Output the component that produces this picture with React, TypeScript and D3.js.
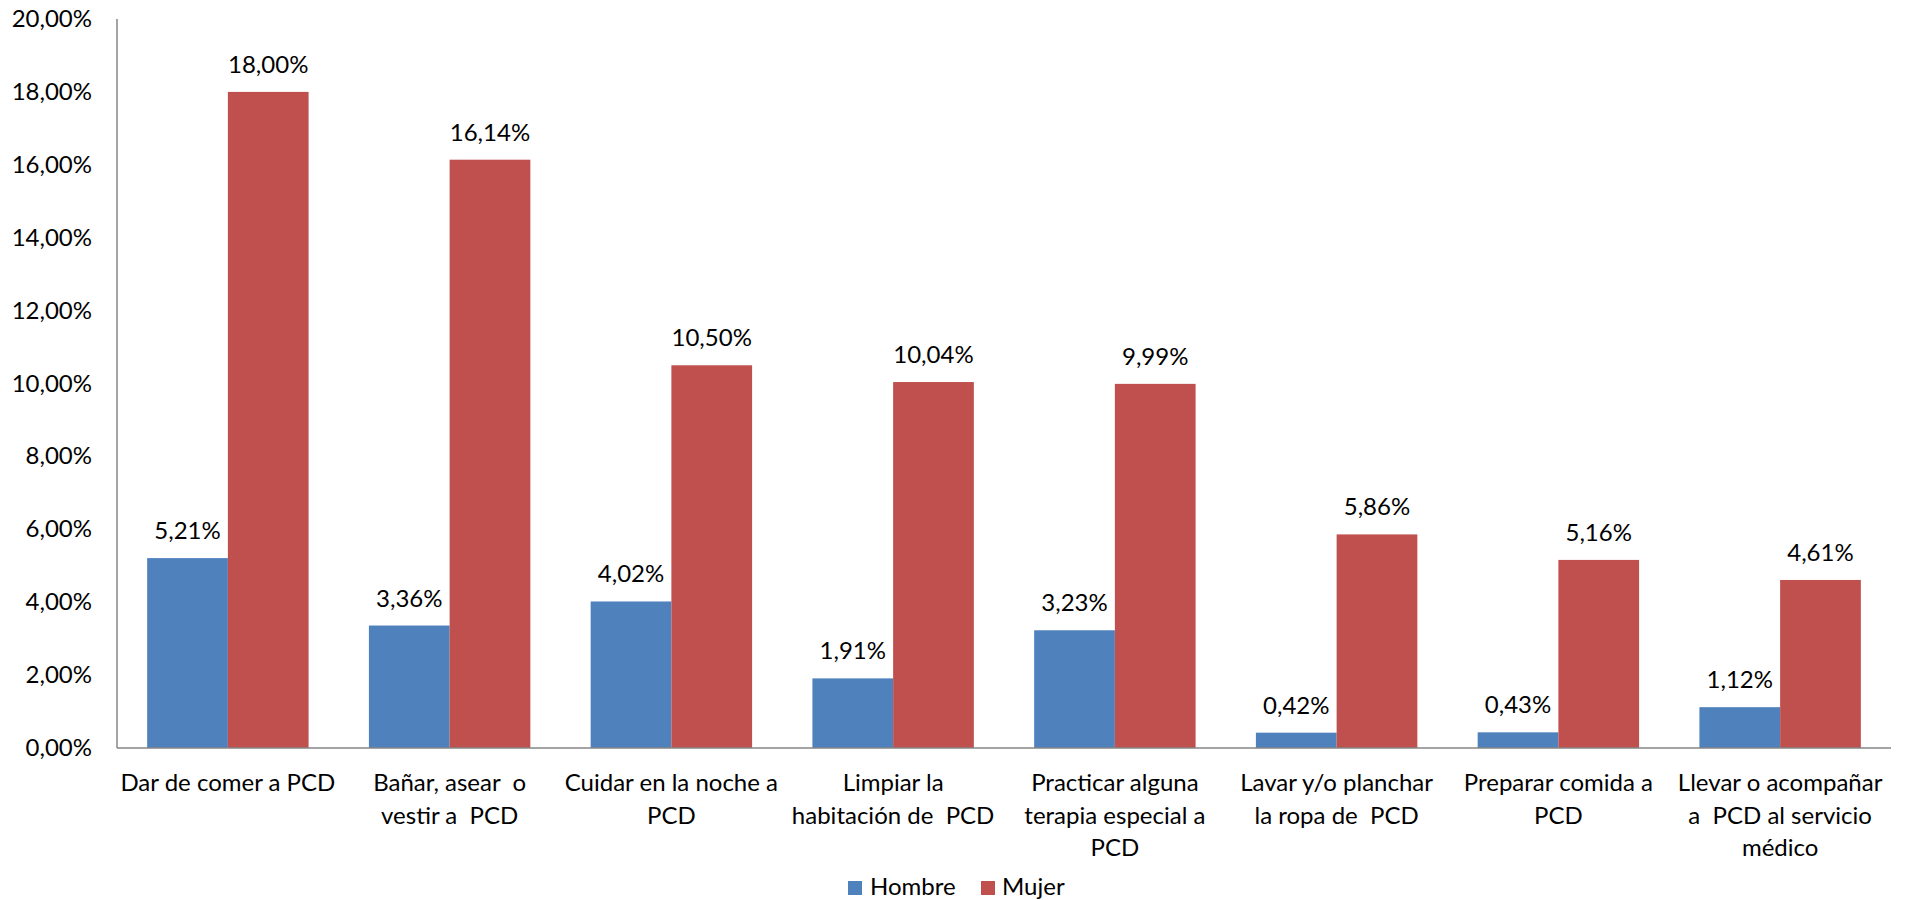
import React from "react";
import * as d3 from "d3";

const categories: string[][] = [
  ["Dar de comer a PCD"],
  ["Bañar, asear  o", "vestir a  PCD"],
  ["Cuidar en la noche a", "PCD"],
  ["Limpiar la", "habitación de  PCD"],
  ["Practicar alguna", "terapia especial a", "PCD"],
  ["Lavar y/o planchar", "la ropa de  PCD"],
  ["Preparar comida a", "PCD"],
  ["Llevar o acompañar", "a  PCD al servicio", "médico"],
];
const hombre = [5.21, 3.36, 4.02, 1.91, 3.23, 0.42, 0.43, 1.12];
const mujer = [18.0, 16.14, 10.5, 10.04, 9.99, 5.86, 5.16, 4.61];
const seriesNames = ["Hombre", "Mujer"];
const seriesColors = ["#4F81BD", "#C0504D"];
const yTicks = [0, 2, 4, 6, 8, 10, 12, 14, 16, 18, 20];

const W = 1906;
const H = 900;
const left = 117;
const right = 1891;
const top = 19;
const bottom = 748;
const FONT = "Lato, 'Open Sans', sans-serif";
const FS = 24;

const fmt = (v: number) => v.toFixed(2).replace(".", ",") + "%";

export default function App() {
  const idx = categories.map((_, i) => i);
  const x = d3.scaleBand<number>().domain(idx).range([left, right]).paddingInner(0.272).paddingOuter(0.136);
  const x1 = d3.scaleBand<number>().domain([0, 1]).range([0, x.bandwidth()]);
  const y = d3.scaleLinear().domain([0, 20]).range([bottom, top]);
  const series = [hombre, mujer];

  return (
    <svg
      width={W}
      height={H}
      style={{ position: "absolute", left: 0, top: 0, background: "#fff" }}
      fontFamily={FONT}
      fontSize={FS}
    >
      {yTicks.map((t) => (
        <text key={t} x={92} y={y(t) + 8} textAnchor="end" fill="#000">
          {fmt(t)}
        </text>
      ))}
      {series.map((vals, s) =>
        vals.map((v, i) => (
          <rect
            key={`${s}-${i}`}
            x={(x(i) as number) + (x1(s) as number)}
            y={y(v)}
            width={x1.bandwidth()}
            height={bottom - y(v)}
            fill={seriesColors[s]}
          />
        ))
      )}
      {series.map((vals, s) =>
        vals.map((v, i) => (
          <text
            key={`l${s}-${i}`}
            x={(x(i) as number) + (x1(s) as number) + x1.bandwidth() / 2}
            y={y(v) - 19}
            textAnchor="middle"
            fill="#000"
          >
            {fmt(v)}
          </text>
        ))
      )}
      <line x1={left} x2={left} y1={top} y2={bottom} stroke="#868686" strokeWidth={1.5} />
      <line x1={left} x2={right} y1={bottom} y2={bottom} stroke="#868686" strokeWidth={1.5} />
      {categories.map((lines, i) => (
        <text
          key={`c${i}`}
          x={(x(i) as number) + x.bandwidth() / 2}
          y={791}
          textAnchor="middle"
          fill="#000"
          style={{ whiteSpace: "pre" }}
        >
          {lines.map((ln, j) => (
            <tspan key={j} x={(x(i) as number) + x.bandwidth() / 2} y={791 + j * 32.5}>
              {ln}
            </tspan>
          ))}
        </text>
      ))}
      <g>
        <rect x={848} y={881} width={14} height={14} fill={seriesColors[0]} />
        <text x={870} y={895} fill="#000">{seriesNames[0]}</text>
        <rect x={981} y={881} width={14} height={14} fill={seriesColors[1]} />
        <text x={1002} y={895} fill="#000">{seriesNames[1]}</text>
      </g>
    </svg>
  );
}
